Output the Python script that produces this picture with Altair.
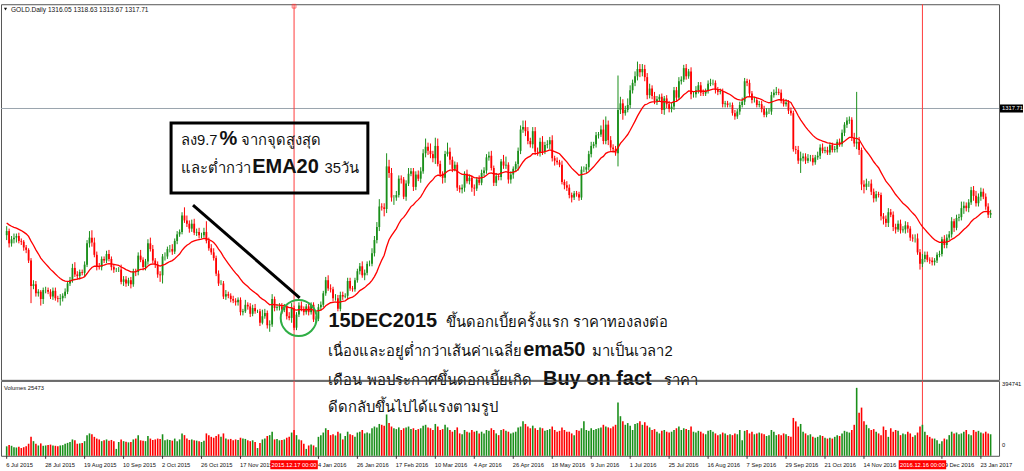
import altair as alt
import pandas as pd

# ---- daily GOLD bars, 6 Jul 2015 .. 27 Jan 2017 (bar index 0..404) ----
CLOSE = [
    1168, 1153, 1158, 1160, 1162, 1156, 1155, 1148, 1145, 1132,
    1101, 1103, 1092, 1094, 1085, 1096, 1096, 1094, 1088, 1095,
    1086, 1085, 1086, 1089, 1094, 1104, 1108, 1123, 1115, 1113,
    1118, 1117, 1127, 1153, 1160, 1154, 1139, 1125, 1124, 1134,
    1132, 1140, 1134, 1124, 1121, 1121, 1121, 1106, 1109, 1104,
    1108, 1103, 1119, 1118, 1138, 1133, 1124, 1131, 1153, 1146,
    1132, 1127, 1115, 1114, 1137, 1137, 1146, 1146, 1143, 1156,
    1164, 1167, 1187, 1181, 1177, 1171, 1177, 1166, 1167, 1163,
    1163, 1167, 1156, 1147, 1142, 1135, 1116, 1104, 1104, 1088,
    1091, 1089, 1085, 1083, 1081, 1084, 1069, 1070, 1078, 1076,
    1067, 1074, 1070, 1070, 1056, 1064, 1068, 1053, 1054, 1085,
    1074, 1075, 1076, 1072, 1076, 1064, 1062, 1074, 1050, 1066,
    1077, 1073, 1069, 1076, 1069, 1078, 1060, 1061,
    1075, 1078, 1092, 1108, 1098, 1097, 1086, 1086, 1073, 1090,
    1088, 1089, 1107, 1098, 1097, 1108, 1119, 1125, 1114, 1117,
    1128, 1128, 1141, 1157, 1173, 1198, 1197, 1195, 1247, 1239,
    1209, 1209, 1212, 1232, 1231, 1210, 1226, 1238, 1241, 1222,
    1237, 1232, 1241, 1263, 1271, 1266, 1262, 1257, 1272, 1250,
    1238, 1233, 1262, 1265, 1255, 1244, 1249, 1221, 1219, 1221,
    1238, 1229, 1233, 1221, 1220, 1231, 1227, 1239, 1242, 1258,
    1260, 1245, 1227, 1235, 1234, 1253, 1248, 1249, 1231, 1237,
    1244, 1250, 1266, 1292, 1295, 1290, 1278, 1274, 1290, 1265,
    1264, 1277, 1265, 1273, 1274, 1279, 1257, 1254, 1252, 1249,
    1228, 1224, 1221, 1212, 1209, 1214, 1213, 1209, 1243, 1243,
    1246, 1262, 1272, 1274, 1285, 1286, 1292, 1278, 1298, 1279,
    1270, 1268, 1263, 1316, 1324, 1312, 1316, 1322, 1340, 1349,
    1357, 1366, 1362, 1366, 1356, 1334, 1342, 1333, 1327, 1329,
    1332, 1316, 1330, 1323, 1317, 1320, 1340, 1331, 1351, 1353,
    1367, 1357, 1363, 1335, 1335, 1340, 1346, 1337, 1336, 1339,
    1348, 1349, 1349, 1341, 1338, 1339, 1323, 1324, 1322, 1322,
    1312, 1308, 1314, 1322, 1326, 1351, 1349, 1336, 1328, 1328,
    1322, 1323, 1317, 1310, 1314, 1314, 1334, 1337, 1338, 1337,
    1327, 1323, 1325, 1315, 1312, 1268, 1267, 1254, 1257, 1259,
    1254, 1257, 1257, 1252, 1258, 1260, 1270, 1266, 1267, 1264,
    1273, 1267, 1268, 1277, 1274, 1288, 1298, 1303, 1304, 1282,
    1275, 1277, 1267, 1225, 1222, 1226, 1226, 1216, 1208, 1213,
    1212, 1186, 1183, 1178, 1191, 1188, 1173, 1170, 1177, 1169,
    1170, 1175, 1171, 1160, 1159, 1159, 1142, 1128, 1134, 1139,
    1133, 1132, 1130, 1132, 1139, 1140, 1158, 1151, 1160, 1164,
    1180, 1172, 1184, 1185, 1196, 1199, 1196, 1203, 1218, 1211,
    1202, 1210, 1216, 1210, 1198, 1188, 1190,
]
UPPER_WICK = [
    6, 3, 4, 5, 3, 4, 3, 2, 3, 2,
    3, 5, 4, 3, 2, 3, 4, 3, 3, 4,
    4, 3, 5, 3, 4, 3, 4, 5, 7, 4,
    3, 3, 4, 4, 8, 9, 6, 4, 4, 3,
    3, 4, 5, 3, 3, 2, 3, 6, 4, 4,
    3, 4, 3, 3, 4, 7, 3, 3, 5, 7,
    5, 3, 4, 4, 3, 5, 3, 5, 6, 3,
    4, 3, 4, 10, 6, 4, 5, 6, 4, 5,
    3, 5, 13, 4, 5, 5, 3, 4, 4, 3,
    5, 3, 3, 4, 3, 3, 3, 3, 6, 3,
    4, 4, 5, 2, 3, 8, 5, 3, 5, 6,
    3, 4, 4, 4, 3, 3, 5, 6, 3, 3,
    4, 5, 3, 3, 3, 3, 3, 3,
    4, 4, 3, 4, 6, 5, 3, 5, 4, 4,
    4, 3, 4, 4, 3, 3, 3, 4, 6, 4,
    3, 4, 6, 5, 6, 9, 4, 5, 16, 8,
    6, 3, 5, 4, 4, 3, 4, 7, 4, 4,
    4, 5, 5, 5, 10, 5, 9, 4, 10, 9,
    4, 3, 4, 11, 5, 4, 4, 3, 3, 4,
    3, 5, 4, 3, 4, 3, 5, 4, 4, 4,
    5, 6, 3, 4, 3, 3, 8, 10, 3, 4,
    3, 3, 4, 5, 8, 8, 5, 4, 5, 5,
    5, 5, 7, 4, 5, 4, 6, 3, 4, 3,
    5, 3, 5, 4, 3, 3, 3, 3, 4, 4,
    4, 4, 5, 3, 4, 3, 5, 12, 10, 5,
    5, 4, 4, 42, 8, 5, 5, 8, 6, 4,
    6, 9, 6, 6, 5, 5, 6, 4, 5, 4,
    3, 4, 3, 4, 4, 5, 4, 4, 5, 4,
    4, 5, 3, 5, 3, 5, 4, 4, 4, 3,
    4, 5, 4, 3, 3, 3, 3, 3, 3, 3,
    3, 4, 3, 4, 5, 4, 3, 4, 3, 4,
    3, 4, 4, 4, 4, 4, 4, 4, 6, 4,
    4, 3, 4, 3, 4, 3, 4, 5, 8, 4,
    4, 5, 4, 4, 3, 5, 4, 5, 4, 4,
    3, 3, 4, 3, 4, 4, 3, 4, 4, 3,
    6, 61, 6, 3, 5, 6, 3, 5, 4, 4,
    3, 3, 4, 4, 5, 4, 4, 4, 4, 5,
    4, 5, 4, 3, 4, 5, 6, 4, 6, 4,
    4, 3, 4, 3, 3, 4, 3, 5, 4, 4,
    5, 3, 4, 4, 8, 5, 4, 4, 4, 5,
    6, 4, 5, 4, 4, 4, 4,
]
LOWER_WICK = [
    6, 5, 4, 5, 6, 3, 4, 4, 4, 3,
    21, 4, 4, 4, 8, 6, 4, 3, 3, 4,
    3, 4, 8, 4, 3, 3, 3, 3, 3, 4,
    4, 3, 5, 3, 5, 5, 3, 5, 3, 4,
    3, 3, 3, 4, 4, 3, 3, 3, 5, 4,
    3, 5, 3, 5, 4, 3, 4, 4, 4, 3,
    3, 4, 4, 8, 10, 5, 3, 4, 4, 3,
    4, 3, 3, 3, 4, 5, 4, 3, 4, 4,
    4, 3, 3, 3, 3, 3, 3, 3, 2, 3,
    4, 3, 4, 3, 4, 4, 4, 4, 2, 4,
    4, 3, 3, 2, 4, 2, 3, 4, 8, 3,
    4, 3, 4, 5, 3, 4, 3, 6, 3, 3,
    3, 3, 4, 3, 4, 3, 3, 4,
    3, 4, 3, 3, 3, 4, 4, 3, 3, 3,
    4, 2, 5, 3, 3, 3, 3, 4, 3, 6,
    3, 3, 3, 4, 4, 5, 4, 9, 5, 6,
    5, 9, 4, 3, 5, 3, 5, 3, 3, 5,
    4, 3, 5, 3, 5, 5, 5, 5, 7, 3,
    4, 7, 6, 3, 6, 4, 3, 4, 4, 5,
    5, 3, 4, 5, 9, 3, 3, 3, 4, 4,
    4, 3, 4, 4, 4, 4, 4, 4, 5, 5,
    5, 4, 8, 4, 4, 6, 4, 4, 5, 4,
    4, 5, 4, 3, 4, 6, 4, 6, 3, 3,
    3, 5, 4, 4, 6, 3, 3, 4, 3, 3,
    4, 4, 4, 3, 4, 4, 3, 4, 4, 6,
    4, 4, 3, 16, 5, 8, 3, 3, 4, 4,
    4, 5, 6, 5, 5, 5, 4, 4, 4, 5,
    3, 5, 6, 5, 4, 4, 4, 4, 3, 4,
    3, 4, 3, 6, 4, 4, 4, 4, 3, 3,
    3, 3, 3, 5, 4, 3, 4, 4, 3, 3,
    3, 4, 3, 4, 3, 4, 4, 3, 4, 3,
    3, 3, 4, 3, 3, 3, 4, 3, 3, 3,
    3, 3, 3, 4, 3, 3, 5, 4, 15, 4,
    4, 3, 4, 4, 3, 3, 4, 3, 3, 3,
    3, 3, 3, 4, 3, 3, 4, 4, 4, 4,
    4, 7, 6, 7, 8, 4, 4, 4, 5, 4,
    3, 5, 7, 5, 5, 3, 5, 5, 3, 4,
    3, 5, 5, 4, 4, 5, 3, 7, 4, 4,
    3, 4, 4, 4, 3, 3, 3, 4, 4, 3,
    4, 5, 3, 4, 4, 7, 4, 5, 3, 6,
    4, 4, 5, 3, 4, 4, 4,
]
VOLUME_K = [
    55, 62, 58, 50, 48, 52, 45, 50, 55, 70,
    110, 85, 70, 60, 72, 58, 60, 62, 65, 60,
    58, 55, 60, 62, 70, 75, 80, 95, 90, 70,
    72, 75, 85, 120, 130, 125, 110, 100, 95, 85,
    90, 95, 88, 92, 85, 40, 80, 95, 85, 82,
    78, 80, 95, 100, 120, 90, 88, 85, 115, 100,
    92, 95, 100, 98, 125, 90, 95, 92, 88, 100,
    85, 95, 130, 120, 100, 92, 95, 90, 88, 85,
    80, 88, 130, 120, 110, 105, 115, 125, 110, 130,
    100, 95, 98, 90, 95, 92, 105, 100, 98, 90,
    85, 90, 80, 45, 75, 95, 100, 115, 120, 140,
    95, 98, 90, 92, 95, 105, 110, 135, 150, 120,
    95, 90, 70, 40, 60, 65, 60, 50,
    110, 120, 135, 160, 150, 120, 125, 118, 140, 130,
    95, 115, 140, 125, 120, 110, 135, 140, 150, 130,
    135, 130, 160, 170, 165, 185, 180, 175, 240, 190,
    170, 160, 155, 165, 150, 160, 165, 170, 155, 160,
    150, 155, 160, 175, 180, 165, 160, 150, 185, 170,
    150, 155, 180, 165, 150, 140, 150, 165, 130, 125,
    150, 140, 135, 150, 140, 145, 130, 140, 130, 150,
    145, 160, 150, 130, 120, 150, 155, 145, 140, 130,
    135, 140, 165, 170, 200, 185, 170, 160, 175, 160,
    150, 165, 160, 145, 150, 155, 170, 150, 140, 145,
    165, 150, 140, 140, 130, 120, 150, 145, 160, 200,
    150, 145, 160, 150, 155, 160, 165, 180, 170, 165,
    160, 170, 180, 310, 230, 200, 180, 190, 175, 150,
    185, 190, 200, 180, 195, 175, 165, 150, 155, 140,
    130, 145, 150, 140, 135, 140, 150, 160, 170, 150,
    160, 155, 150, 170, 140, 135, 145, 140, 130, 125,
    145, 150, 140, 130, 120, 125, 135, 130, 120, 125,
    120, 130, 125, 150, 90, 145, 150, 130, 140, 125,
    130, 135, 130, 125, 115, 120, 150, 140, 120, 125,
    120, 130, 125, 115, 110, 220, 200, 170, 185, 140,
    130, 120, 125, 110, 105, 110, 120, 115, 105, 100,
    105, 100, 110, 120, 115, 130, 145, 140, 135, 150,
    180, 394.741, 250, 280, 200, 180, 160, 150, 155, 140,
    130, 120, 170, 150, 110, 160, 140, 150, 145, 120,
    130, 125, 140, 130, 110, 120, 135, 170, 180, 140,
    120, 110, 100, 100, 90, 70, 85, 100, 95, 120,
    140, 130, 135, 125, 130, 140, 150, 125, 120, 150,
    140, 145, 135, 130, 140, 130, 125,
]
FIRST_OPEN = 1163.0

EMA_PERIOD = 20
EMA_START = 1179.0

PRICE_TICKS = [1432.00, 1406.80, 1382.30, 1357.80, 1333.30, 1308.10, 1283.60,
               1259.10, 1233.90, 1209.40, 1184.90, 1160.40, 1135.20, 1110.70,
               1086.20, 1061.00, 1036.50, 1012.00, 987.50]
# date ticks every 16 bars (the two under the cursor stamps are hidden by them)
DATE_TICK_POS = [0, 16, 32, 48, 64, 80, 96, 128, 144, 160, 176, 192,
                 208, 224, 240, 256, 272, 288, 304, 320, 336, 352, 384, 400]
DATE_TICK_LABELS = ["6 Jul 2015", "28 Jul 2015", "19 Aug 2015", "10 Sep 2015",
                    "2 Oct 2015", "26 Oct 2015", "17 Nov 2015",
                    "4 Jan 2016", "26 Jan 2016", "17 Feb 2016", "10 Mar 2016",
                    "4 Apr 2016", "26 Apr 2016", "18 May 2016", "9 Jun 2016",
                    "1 Jul 2016", "25 Jul 2016", "16 Aug 2016", "7 Sep 2016",
                    "29 Sep 2016", "21 Oct 2016", "14 Nov 2016",
                    "29 Dec 2016", "23 Jan 2017"]

LAST_PRICE = 1317.71
VOLUME_MAX = 394741
CURSOR_BARS = [118, 376]
CURSOR_LABELS = ["2015.12.17 00:00", "2016.12.16 00:00"]
HEADER = "GOLD.Daily  1316.05 1318.63 1313.67 1317.71"
VOLUME_TITLE = "Volumes 25473"

# callout box (bar index / price units)
BOX_X = [67.5, 148.3]
BOX_P = [1214.5, 1299.9]
BOX_TEXT = ["ลง9.7", "%", "จากจุดสูงสุด", "และต่ำกว่า", "EMA20", "35วัน"]
BOX_TEXT_X = [71.6, 87.4, 96.4, 71.6, 100.8, 130.5]
BOX_TEXT_P = [1273.0, 1273.0, 1273.0, 1238.8, 1238.8, 1238.8]
BOX_TEXT_BOLD = [False, True, False, False, True, False]
POINTER_X = [76.5, 120.3]
POINTER_P = [1199.8, 1086.4]
RING_X = 119.9
RING_P = 1061.8

NOTE_TEXT = ["15DEC2015", "ขึ้นดอกเบี้ยครั้งแรก ราคาทองลงต่อ",
             "เนื่องและอยู่ต่ำกว่าเส้นค่าเฉลี่ย", "ema50", "มาเป็นเวลา2",
             "เดือน พอประกาศขึ้นดอกเบี้ยเกิด", "Buy on fact", "ราคา",
             "ดีดกลับขึ้นไปได้แรงตามรูป"]
NOTE_X = [132.1, 180.4, 132.1, 212.1, 240.5, 132.1, 220.2, 269.8, 132.1]
NOTE_P = [1051.0, 1051.0, 1015.6, 1015.6, 1015.6, 980.2, 980.2, 980.2, 947.2]
NOTE_BOLD = [True, False, False, True, False, False, True, False, False]

n = len(CLOSE)
assert len(UPPER_WICK) == n and len(LOWER_WICK) == n and len(VOLUME_K) == n

# ---- build the bar table; each bar opens at the prior close ----
opens = [FIRST_OPEN] + CLOSE[:-1]
alpha = 2.0 / (EMA_PERIOD + 1)
ema = EMA_START
rows = []
for i in range(n):
    o, c = float(opens[i]), float(CLOSE[i])
    ema += alpha * (c - ema)
    rows.append({
        "idx": i, "open": o, "close": c,
        "high": max(o, c) + UPPER_WICK[i], "low": min(o, c) - LOWER_WICK[i],
        "volume": VOLUME_K[i] * 1000.0, "ema": ema,
        "dir": "up" if c >= o else "down",
    })
bars = pd.DataFrame(rows)

W, H_PRICE, H_VOL = 999, 376, 75
GREEN, RED = "#1a8f1a", "#ff0000"
FONT = "Liberation Sans"
INK = "#111111"

x_scale = alt.Scale(domain=[-0.28, 405.4], nice=False, zero=False)
p_scale = alt.Scale(domain=[986.3, 1445.05], nice=False, zero=False)
v_scale = alt.Scale(domain=[0, VOLUME_MAX * 75 / 68], nice=False)
dir_color = alt.Color("dir:N", scale=alt.Scale(domain=["up", "down"], range=[GREEN, RED]),
                      legend=None)


def X(field):
    return alt.X(field, scale=x_scale, axis=None, title=None)


def P(field, axis=None):
    return alt.Y(field, scale=p_scale, axis=axis, title=None)


price_axis = alt.Axis(orient="right", values=PRICE_TICKS, format=".2f", grid=False,
                      domain=False, ticks=True, tickSize=2, tickColor="#333333",
                      labelFont=FONT, labelFontSize=5.8, labelColor=INK, labelPadding=1,
                      labelAlign="left", labelBaseline="middle", labelFlush=False,
                      labelOverlap=False, minExtent=24, maxExtent=24)

# ---- price pane ----
price_line = alt.Chart(pd.DataFrame({"p": [LAST_PRICE]})).mark_rule(
    color="#9aa4ae", strokeWidth=1).encode(y=P("p:Q"))
cursors = alt.Chart(pd.DataFrame({"i": CURSOR_BARS})).mark_rule(
    color="#ff3b3b", strokeWidth=1).encode(x=X("i:Q"))
cursor_mark = alt.Chart(pd.DataFrame({"i": CURSOR_BARS[:1]})).mark_point(
    shape="square", filled=False, size=14, color="#ff3b3b", strokeWidth=1).encode(
    x=X("i:Q"), y=alt.value(2))
wicks = alt.Chart(bars).mark_rule(strokeWidth=1).encode(
    x=X("idx:Q"), y=P("low:Q", price_axis), y2="high:Q", color=dir_color)
bodies = alt.Chart(bars).mark_bar(size=1.8).encode(
    x=X("idx:Q"), y=P("open:Q"), y2="close:Q", color=dir_color)
ema_line = alt.Chart(bars).mark_line(color=RED, strokeWidth=1.3).encode(
    x=X("idx:Q"), y=P("ema:Q"))

box = alt.Chart(pd.DataFrame({"x0": [BOX_X[0]], "x1": [BOX_X[1]],
                              "p0": [BOX_P[0]], "p1": [BOX_P[1]]})).mark_rect(
    fill="white", fillOpacity=0, stroke="black", strokeWidth=3).encode(
    x=X("x0:Q"), x2="x1:Q", y=P("p0:Q"), y2="p1:Q")
pointer = alt.Chart(pd.DataFrame({"x0": [POINTER_X[0]], "x1": [POINTER_X[1]],
                                  "p0": [POINTER_P[0]], "p1": [POINTER_P[1]]})).mark_rule(
    color="black", strokeWidth=3).encode(x=X("x0:Q"), x2="x1:Q", y=P("p0:Q"), y2="p1:Q")
ring = alt.Chart(pd.DataFrame({"x": [RING_X], "p": [RING_P]})).mark_point(
    shape="circle", filled=False, size=36 * 36, color="#2fae45", strokeWidth=2,
    opacity=1).encode(x=X("x:Q"), y=P("p:Q"))

box_text = pd.DataFrame({"t": BOX_TEXT, "x": BOX_TEXT_X, "p": BOX_TEXT_P, "b": BOX_TEXT_BOLD})
note_text = pd.DataFrame({"t": NOTE_TEXT, "x": NOTE_X, "p": NOTE_P, "b": NOTE_BOLD})
words = pd.concat([box_text, note_text], ignore_index=True)


def word_layer(df, bold):
    return alt.Chart(df[df["b"] == bold]).mark_text(
        align="left", baseline="alphabetic", font=FONT, color=INK,
        fontSize=20 if bold else 14.8, fontWeight="bold" if bold else "normal").encode(
        x=X("x:Q"), y=P("p:Q"), text="t:N")


header_tri = alt.Chart(pd.DataFrame({"a": [0]})).mark_point(
    shape="triangle-down", filled=True, size=10, color=INK, opacity=1).encode(
    x=alt.value(4.5), y=alt.value(5))
header = alt.Chart(pd.DataFrame({"t": [HEADER]})).mark_text(
    align="left", baseline="middle", font=FONT, fontSize=6.6, color=INK).encode(
    x=alt.value(10), y=alt.value(5.5), text="t:N")
tag_box = alt.Chart(pd.DataFrame({"p0": [LAST_PRICE - 4.9], "p1": [LAST_PRICE + 4.9]})).mark_rect(
    color="black").encode(x=alt.value(W + 1), x2=alt.value(W + 24), y=P("p0:Q"), y2="p1:Q")
tag_text = alt.Chart(pd.DataFrame({"p": [LAST_PRICE], "t": ["%.2f" % LAST_PRICE]})).mark_text(
    align="left", baseline="middle", font=FONT, fontSize=5.8, color="white").encode(
    x=alt.value(W + 3), y=P("p:Q"), text="t:N")

price_pane = alt.layer(
    price_line, cursors, cursor_mark, wicks, bodies, ema_line,
    box, pointer, ring, word_layer(words, False), word_layer(words, True),
    header_tri, header, tag_box, tag_text,
).properties(width=W, height=H_PRICE)

# ---- volume pane with the date scale underneath ----
vol_cursors = alt.Chart(pd.DataFrame({"i": CURSOR_BARS})).mark_rule(
    color="#ff3b3b", strokeWidth=1).encode(x=X("i:Q"))
vol_bars = alt.Chart(bars).mark_bar(size=1.6).encode(
    x=X("idx:Q"),
    y=alt.Y("volume:Q", scale=v_scale, axis=None, title=None),
    color=dir_color)
vol_title = alt.Chart(pd.DataFrame({"t": [VOLUME_TITLE]})).mark_text(
    align="left", baseline="middle", font=FONT, fontSize=5.8, color=INK).encode(
    x=alt.value(3), y=alt.value(7), text="t:N")
vol_labels = alt.Chart(pd.DataFrame({"t": [str(VOLUME_MAX), "0"], "y": [3, 64]})).mark_text(
    align="left", baseline="middle", font=FONT, fontSize=5.8, color=INK).encode(
    x=alt.value(W + 3), y=alt.Y("y:Q", scale=None), text="t:N")

dates = pd.DataFrame({"pos": DATE_TICK_POS, "label": DATE_TICK_LABELS})
date_ticks = alt.Chart(dates).mark_rule(color="#333333", strokeWidth=1).encode(
    x=X("pos:Q"), y=alt.value(H_VOL), y2=alt.value(H_VOL + 3))
date_labels = alt.Chart(dates).mark_text(
    align="left", baseline="middle", font=FONT, fontSize=5.8, color=INK, dx=-0.5).encode(
    x=X("pos:Q"), y=alt.value(H_VOL + 8.8), text="label:N")

stamp = pd.DataFrame({"i": CURSOR_BARS, "i0": [b - 9.75 for b in CURSOR_BARS],
                      "i1": [b + 9.75 for b in CURSOR_BARS], "t": CURSOR_LABELS})
stamp_box = alt.Chart(stamp).mark_rect(color="#ff0000").encode(
    x=X("i0:Q"), x2="i1:Q", y=alt.value(H_VOL + 4.5), y2=alt.value(H_VOL + 13.5))
stamp_text = alt.Chart(stamp).mark_text(
    align="center", baseline="middle", font=FONT, fontSize=5.8, color="white").encode(
    x=X("i:Q"), y=alt.value(H_VOL + 9.2), text="t:N")

volume_pane = alt.layer(
    vol_cursors, vol_bars, vol_title, vol_labels, date_ticks, date_labels,
    stamp_box, stamp_text,
).properties(width=W, height=H_VOL)

chart = alt.vconcat(price_pane, volume_pane, spacing=1, bounds="flush").properties(
    padding={"left": 0, "top": 1, "right": 0, "bottom": 0},
    background="white",
).configure_view(stroke="#555555", strokeWidth=1)

chart.save("out.html", embed_options={"renderer": "svg", "actions": False})
